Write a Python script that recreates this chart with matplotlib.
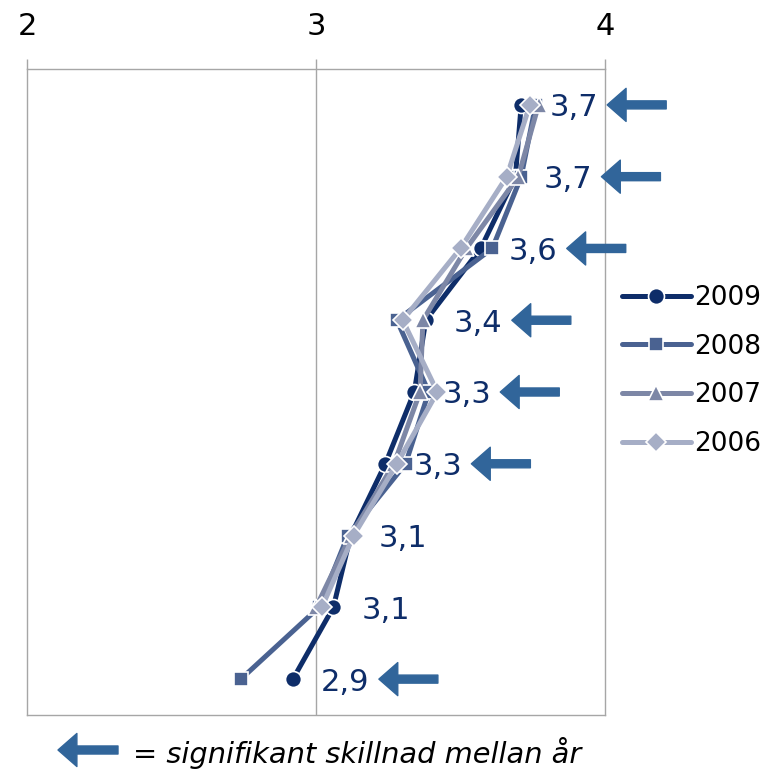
import numpy as np
import matplotlib.pyplot as plt

plt.rcParams['font.family'] = ['DejaVu Sans']

# values (rows top to bottom)
rows = np.arange(9)
y2009 = [3.71, 3.69, 3.57, 3.38, 3.34, 3.24, 3.12, 3.06, 2.92]
y2008 = [3.76, 3.71, 3.61, 3.28, 3.39, 3.31, 3.11, 3.01, 2.74]
y2007 = [3.77, 3.70, 3.52, 3.37, 3.36, 3.27, 3.12, 3.00, np.nan]
y2006 = [3.74, 3.66, 3.50, 3.30, 3.42, 3.28, 3.13, 3.02, np.nan]
labels = ['3,7', '3,7', '3,6', '3,4', '3,3', '3,3', '3,1', '3,1', '2,9']
signif = [True, True, True, True, True, True, False, False, True]
xticks = [2, 3, 4]

c2009 = '#0E2D69'
c2008 = '#4A6291'
c2007 = '#7D87A6'
c2006 = '#A6AEC6'
carrow = '#31659A'
cgrid = '#A6A6A6'
arrow_style = 'simple,head_length=0.68,head_width=1.19,tail_width=0.29'

fig = plt.figure(figsize=(7.71, 7.69), dpi=100)
ax = fig.add_axes([27 / 771, 1 - 715 / 769, 578 / 771, 646 / 769])

series = [('2009', y2009, c2009, 'o', 11.5),
          ('2008', y2008, c2008, 's', 10),
          ('2007', y2007, c2007, '^', 12),
          ('2006', y2006, c2006, 'D', 10)]
for z, (name, vals, col, mk, ms) in enumerate(series):
    ax.plot(vals, rows, color=col, lw=3.6, marker=mk, ms=ms,
            mec='white', mew=1.2, solid_capstyle='round', label=name,
            zorder=3 + z)

ax.set_xlim(2, 4)
ax.set_ylim(8.5, -0.5)
ax.xaxis.tick_top()
ax.set_xticks(xticks)
ax.set_xticklabels([str(t) for t in xticks], fontsize=22)
ax.tick_params(axis='x', length=7.2, width=1, color=cgrid, pad=13)
ax.set_yticks([])
ax.axvline(3, color=cgrid, lw=1, zorder=1)
for s in ax.spines.values():
    s.set_color(cgrid)
    s.set_linewidth(1)

# data labels and significance arrows
for i, v in enumerate(y2009):
    ax.annotate(labels[i], xy=(v, i), xytext=(28, 0), textcoords='offset pixels',
                ha='left', va='center_baseline', fontsize=22, color=c2009,
                annotation_clip=False, zorder=10)
    if signif[i]:
        ax.annotate('', xy=(v + 86 / 289, i), xytext=(v + 145 / 289, i),
                    arrowprops=dict(arrowstyle=arrow_style, color=carrow,
                                    shrinkA=0, shrinkB=0, mutation_scale=20),
                    annotation_clip=False)

leg = ax.legend(loc='upper left', bbox_to_anchor=(622 / 771, 1 - 285 / 769),
                bbox_transform=fig.transFigure, frameon=False, fontsize=19,
                handlelength=2.6, handletextpad=0.15, labelspacing=0.86,
                borderpad=0, borderaxespad=0)

# footnote
ax.annotate('', xy=(58, 769 - 750), xytext=(118, 769 - 750), xycoords='figure pixels',
            textcoords='figure pixels',
            arrowprops=dict(arrowstyle=arrow_style, color=carrow,
                            shrinkA=0, shrinkB=0, mutation_scale=20),
            annotation_clip=False)
fig.text(133 / 771, 1 - 750 / 769, '= signifikant skillnad mellan år', fontsize=20.8,
         style='italic', ha='left', va='center_baseline')

fig.savefig('out.png', dpi=100)
